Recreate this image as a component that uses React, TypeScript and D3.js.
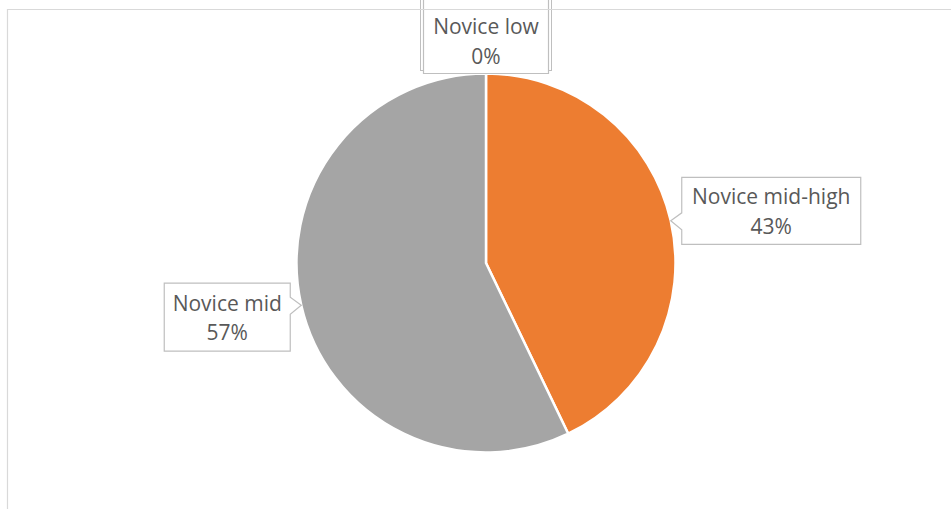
import React from "react";
import * as d3 from "d3";

const categories = ["Novice low", "Novice mid-high", "Novice mid"];
const counts = [0, 3, 4];
const percentLabels = ["0%", "43%", "57%"];
const colors = ["#4472C4", "#ED7D31", "#A5A5A5"];

const W = 951;
const H = 509;
const cx = 486;
const cy = 263;
const R = 189.5;
const FONT = "'Open Sans', sans-serif";
const FS = 21;

// label box layout relative to the pointer tip on the pie edge
type Layout = { side: "top" | "right" | "left"; w: number; h: number; off: number };
const layouts: Layout[] = [
  { side: "top", w: 125, h: 66, off: 0 },
  { side: "right", w: 179, h: 67, off: -10 },
  { side: "left", w: 126, h: 68, off: 12 },
];

export default function App() {
  const pie = d3.pie<number>().sort(null).value((d) => d);
  const arcs = pie(counts);
  const arc = d3.arc<d3.PieArcDatum<number>>().innerRadius(0).outerRadius(R);

  const labels = arcs.map((a, i) => {
    const mid = (a.startAngle + a.endAngle) / 2;
    const tx = cx + Math.sin(mid) * R;
    const ty = cy - Math.cos(mid) * R;
    const L = layouts[i];
    let x0: number, y0: number, path: string;
    if (L.side === "top") {
      x0 = tx - L.w / 2;
      y0 = ty - L.h;
      const yt = -2;
      path = `M${x0},${yt}H${x0 + L.w}V${y0 + L.h}H${x0}Z`;
    } else if (L.side === "right") {
      x0 = tx + 11;
      y0 = ty + L.off - L.h / 2;
      const b1 = ty - 8, b2 = ty + 9;
      path = `M${x0},${y0}H${x0 + L.w}V${y0 + L.h}H${x0}V${b2}L${tx},${ty}L${x0},${b1}Z`;
    } else {
      x0 = tx - 11 - L.w;
      y0 = ty + L.off - L.h / 2;
      const xr = x0 + L.w;
      const b1 = ty - 8, b2 = ty + 9;
      path = `M${x0},${y0}H${xr}V${b1}L${tx},${ty}L${xr},${b2}V${y0 + L.h}H${x0}Z`;
    }
    const cxl = x0 + L.w / 2;
    const cyl = y0 + L.h / 2;
    return { i, path, cxl, cyl, x0, y0, L };
  });

  return (
    <svg width={W} height={H} style={{ position: "absolute", left: 0, top: 0 }}>
      <rect x={0} y={0} width={W} height={H} fill="#fff" />
      <g>
        {arcs.map((a, i) => (
          <path
            key={i}
            d={arc(a) || ""}
            transform={`translate(${cx},${cy})`}
            fill={colors[i]}
            stroke="#fff"
            strokeWidth={2.5}
            strokeLinejoin="round"
          />
        ))}
      </g>
      {labels.map((l) => (
        <g key={l.i}>
          {l.L.side === "top" && (
            <rect
              x={l.x0 - 3}
              y={-2}
              width={l.L.w + 6}
              height={l.y0 + l.L.h - 1}
              fill="#fff"
              stroke="#BFBFBF"
              strokeWidth={1}
            />
          )}
          <path d={l.path} fill="#fff" stroke="#BFBFBF" strokeWidth={1.2} />
          <text
            x={l.cxl}
            y={l.cyl - 6.5}
            textAnchor="middle"
            fontFamily={FONT}
            fontSize={FS}
            fill="#595959"
          >
            {categories[l.i]}
          </text>
          <text
            x={l.cxl}
            y={l.cyl + 23}
            textAnchor="middle"
            fontFamily={FONT}
            fontSize={FS}
            fill="#595959"
          >
            {percentLabels[l.i]}
          </text>
        </g>
      ))}
      <path d={`M7.5,${H}V9.5H${W}`} fill="none" stroke="#D9D9D9" strokeWidth={1.2} />
    </svg>
  );
}
